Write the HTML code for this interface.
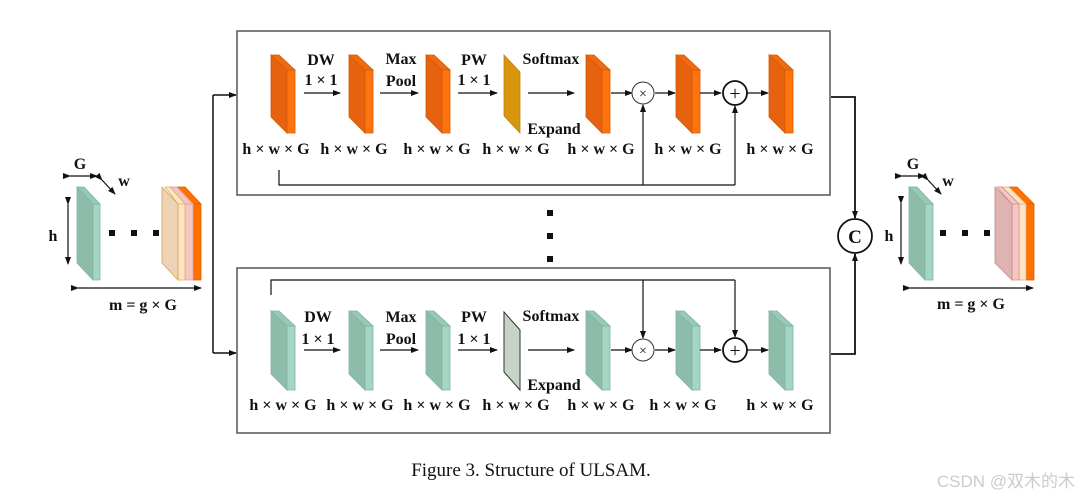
<!DOCTYPE html>
<html><head><meta charset="utf-8"><style>
html,body{margin:0;padding:0;background:#fff;width:1080px;height:498px;overflow:hidden}
svg text{font-family:"Liberation Serif",serif;fill:#111}
</style></head><body>
<svg width="1080" height="498" viewBox="0 0 1080 498" xmlns="http://www.w3.org/2000/svg">
<defs>
<marker id="a" markerWidth="8" markerHeight="8" refX="7" refY="4" orient="auto" markerUnits="userSpaceOnUse"><path d="M0,1 L8,4 L0,7 Z" fill="#111"/></marker>
<marker id="b" markerWidth="8" markerHeight="8" refX="1" refY="4" orient="auto-start-reverse" markerUnits="userSpaceOnUse"><path d="M0,4 L8,1 L8,7 Z" fill="#111"/></marker>
</defs>
<rect x="237" y="31" width="593" height="164" fill="none" stroke="#555" stroke-width="1.5"/>
<rect x="237" y="268" width="593" height="165" fill="none" stroke="#555" stroke-width="1.5"/>

<path d="M213,95 L213,353" stroke="#111" stroke-width="1.5" fill="none"/>
<path d="M213,95 L236,95" stroke="#111" stroke-width="1.5" marker-end="url(#a)"/>
<path d="M213,353 L236,353" stroke="#111" stroke-width="1.5" marker-end="url(#a)"/>

<path d="M831,97 L855,97 L855,218" stroke="#111" stroke-width="1.8" fill="none" marker-end="url(#a)"/>
<path d="M831,354 L855,354 L855,254" stroke="#111" stroke-width="1.8" fill="none" marker-end="url(#a)"/>
<circle cx="855" cy="236" r="17" fill="#fff" stroke="#111" stroke-width="1.8"/>
<text x="855" y="243" font-size="19" text-anchor="middle" font-weight="bold">C</text>

<rect x="547" y="210" width="6" height="6" fill="#111"/>
<rect x="547" y="233" width="6" height="6" fill="#111"/>
<rect x="547" y="256" width="6" height="6" fill="#111"/>

<g stroke="#d25a08" stroke-width="0.8">
<g id="os">
<polygon points="271,55 287,70 287,133 271,117" fill="#e6620e"/>
<polygon points="287,70 295,70 295,133 287,133" fill="#ff740f"/>
<polygon points="271,55 279,55 295,70 287,70" fill="#f06a10"/>
</g>
<use href="#os" x="78"/>
<use href="#os" x="155"/>
<use href="#os" x="315"/>
<use href="#os" x="405"/>
<use href="#os" x="498"/>
<polygon points="504,55 520,72 520,133 504,116" fill="#d8950e" stroke="#c08010"/>
</g>
<g stroke="#111" stroke-width="1.2" fill="none">
<line x1="304" y1="93" x2="340" y2="93" marker-end="url(#a)"/>
<line x1="380" y1="93" x2="418" y2="93" marker-end="url(#a)"/>
<line x1="458" y1="93" x2="497" y2="93" marker-end="url(#a)"/>
<line x1="528" y1="93" x2="574" y2="93" marker-end="url(#a)"/>
<line x1="611" y1="93" x2="632" y2="93" marker-end="url(#a)"/>
<line x1="655" y1="93" x2="675" y2="93" marker-end="url(#a)"/>
<line x1="700" y1="93" x2="721" y2="93" marker-end="url(#a)"/>
<line x1="747" y1="93" x2="768" y2="93" marker-end="url(#a)"/>
<path d="M279,170 L279,185 L735,185"/>
<line x1="643" y1="185" x2="643" y2="105" marker-end="url(#a)"/>
<line x1="735" y1="185" x2="735" y2="106" marker-end="url(#a)"/>
</g>
<circle cx="643" cy="93" r="11" fill="#fff" stroke="#333" stroke-width="1"/>
<text x="643" y="98" font-size="14" text-anchor="middle">×</text>
<circle cx="735" cy="93" r="12" fill="#fff" stroke="#111" stroke-width="1.8"/>
<text x="735" y="100" font-size="20" text-anchor="middle">+</text>
<g font-size="16" text-anchor="middle" font-weight="bold">
<text x="321" y="65">DW</text><text x="321" y="85">1 × 1</text>
<text x="401" y="64">Max</text><text x="401" y="86">Pool</text>
<text x="474" y="65">PW</text><text x="474" y="85">1 × 1</text>
<text x="551" y="64">Softmax</text><text x="554" y="134">Expand</text>
<text x="276" y="154">h × w × G</text><text x="354" y="154">h × w × G</text>
<text x="437" y="154">h × w × G</text><text x="516" y="154">h × w × G</text>
<text x="601" y="154">h × w × G</text><text x="688" y="154">h × w × G</text>
<text x="780" y="154">h × w × G</text>
</g>

<g stroke="#7fb49f" stroke-width="0.8">
<g id="ts">
<polygon points="271,311 287,326 287,390 271,374" fill="#8dbcab"/>
<polygon points="287,326 295,326 295,390 287,390" fill="#a5d6c4"/>
<polygon points="271,311 279,311 295,326 287,326" fill="#98c8b6"/>
</g>
<use href="#ts" x="78"/>
<use href="#ts" x="155"/>
<use href="#ts" x="315"/>
<use href="#ts" x="405"/>
<use href="#ts" x="498"/>
<polygon points="504,312 520,330 520,390 504,372" fill="#c6d4c6" stroke="#333" stroke-width="1"/>
</g>
<g stroke="#111" stroke-width="1.2" fill="none">
<line x1="304" y1="350" x2="340" y2="350" marker-end="url(#a)"/>
<line x1="380" y1="350" x2="418" y2="350" marker-end="url(#a)"/>
<line x1="458" y1="350" x2="497" y2="350" marker-end="url(#a)"/>
<line x1="528" y1="350" x2="574" y2="350" marker-end="url(#a)"/>
<line x1="611" y1="350" x2="632" y2="350" marker-end="url(#a)"/>
<line x1="655" y1="350" x2="675" y2="350" marker-end="url(#a)"/>
<line x1="700" y1="350" x2="721" y2="350" marker-end="url(#a)"/>
<line x1="747" y1="350" x2="768" y2="350" marker-end="url(#a)"/>
<path d="M271,295 L271,280 L735,280"/>
<line x1="643" y1="280" x2="643" y2="338" marker-end="url(#a)"/>
<line x1="735" y1="280" x2="735" y2="337" marker-end="url(#a)"/>
</g>
<circle cx="643" cy="350" r="11" fill="#fff" stroke="#333" stroke-width="1"/>
<text x="643" y="355" font-size="14" text-anchor="middle">×</text>
<circle cx="735" cy="350" r="12" fill="#fff" stroke="#111" stroke-width="1.8"/>
<text x="735" y="357" font-size="20" text-anchor="middle">+</text>
<g font-size="16" text-anchor="middle" font-weight="bold">
<text x="318" y="322">DW</text><text x="318" y="344">1 × 1</text>
<text x="401" y="322">Max</text><text x="401" y="344">Pool</text>
<text x="474" y="322">PW</text><text x="474" y="344">1 × 1</text>
<text x="551" y="321">Softmax</text><text x="554" y="390">Expand</text>
<text x="283" y="410">h × w × G</text><text x="360" y="410">h × w × G</text>
<text x="437" y="410">h × w × G</text><text x="516" y="410">h × w × G</text>
<text x="601" y="410">h × w × G</text><text x="683" y="410">h × w × G</text>
<text x="780" y="410">h × w × G</text>
</g>

<g stroke="#7fb49f" stroke-width="0.8">
<polygon points="77,187 93,204 93,280 77,263" fill="#8dbcab"/>
<polygon points="93,204 100,204 100,280 93,280" fill="#a5d6c4"/>
<polygon points="77,187 84,187 100,204 93,204" fill="#98c8b6"/>
</g>
<g stroke-width="0.8">
<polygon points="177,187 185,187 201,204 193,204" fill="#ff7000" stroke="#e06000"/>
<polygon points="193,204 201,204 201,280 193,280" fill="#ff7000" stroke="#e06000"/>
<polygon points="170,187 177,187 193,204 185,204" fill="#f6c4c0" stroke="#e0a0a0"/>
<polygon points="185,204 193,204 193,280 185,280" fill="#f6c6c2" stroke="#e0a0a0"/>
<polygon points="165,187 170,187 185,204 178,204" fill="#fde4c4" stroke="#e0b070"/>
<polygon points="178,204 185,204 185,280 178,280" fill="#fde4c4" stroke="#e0b070"/>
<polygon points="162,187 178,204 178,280 162,263" fill="#ecd3b6" stroke="#e0a040"/>
</g>
<rect x="109" y="230" width="6" height="6" fill="#111"/>
<rect x="131" y="230" width="6" height="6" fill="#111"/>
<rect x="153" y="230" width="6" height="6" fill="#111"/>
<g stroke="#111" stroke-width="1.2">
<line x1="70" y1="176" x2="97" y2="176" marker-start="url(#b)" marker-end="url(#a)"/>
<line x1="102" y1="180" x2="115" y2="194" marker-start="url(#b)" marker-end="url(#a)"/>
<line x1="68" y1="204" x2="68" y2="264" marker-start="url(#b)" marker-end="url(#a)"/>
<line x1="78" y1="288" x2="201" y2="288" marker-start="url(#b)" marker-end="url(#a)"/>
</g>
<g font-size="16" text-anchor="middle" font-weight="bold">
<text x="80" y="169">G</text><text x="124" y="186">w</text>
<text x="53" y="241">h</text><text x="143" y="310">m =  g × G</text>
</g>

<g stroke="#7fb49f" stroke-width="0.8">
<polygon points="909,187 925,204 925,280 909,263" fill="#8dbcab"/>
<polygon points="925,204 933,204 933,280 925,280" fill="#a5d6c4"/>
<polygon points="909,187 917,187 933,204 925,204" fill="#98c8b6"/>
</g>
<g stroke-width="0.8">
<polygon points="1009,187 1017,187 1034,204 1026,204" fill="#ff7000" stroke="#e06000"/>
<polygon points="1026,204 1034,204 1034,280 1026,280" fill="#ff7000" stroke="#e06000"/>
<polygon points="1002,187 1009,187 1026,204 1019,204" fill="#fde4c4" stroke="#e0b070"/>
<polygon points="1019,204 1026,204 1026,280 1019,280" fill="#fde4c4" stroke="#e0b070"/>
<polygon points="997,187 1002,187 1019,204 1012,204" fill="#f6c6c2" stroke="#d09090"/>
<polygon points="1012,204 1019,204 1019,280 1012,280" fill="#f6c6c2" stroke="#d09090"/>
<polygon points="995,187 1012,204 1012,280 995,263" fill="#ddb4b2" stroke="#c88888"/>
</g>
<rect x="940" y="230" width="6" height="6" fill="#111"/>
<rect x="962" y="230" width="6" height="6" fill="#111"/>
<rect x="984" y="230" width="6" height="6" fill="#111"/>
<g stroke="#111" stroke-width="1.2">
<line x1="902" y1="176" x2="925" y2="176" marker-start="url(#b)" marker-end="url(#a)"/>
<line x1="928" y1="180" x2="941" y2="194" marker-start="url(#b)" marker-end="url(#a)"/>
<line x1="901" y1="203" x2="901" y2="264" marker-start="url(#b)" marker-end="url(#a)"/>
<line x1="910" y1="288" x2="1033" y2="288" marker-start="url(#b)" marker-end="url(#a)"/>
</g>
<g font-size="16" text-anchor="middle" font-weight="bold">
<text x="913" y="169">G</text><text x="948" y="186">w</text>
<text x="889" y="241">h</text><text x="971" y="309">m =  g × G</text>
</g>

<text x="531" y="476" font-size="19" text-anchor="middle">Figure 3. Structure of ULSAM.</text>
<text x="1075" y="487" font-size="17" text-anchor="end" style="font-family:'Liberation Sans','Noto Sans CJK SC',sans-serif;fill:#cccccc">CSDN @双木的木</text>
</svg>
</body></html>
